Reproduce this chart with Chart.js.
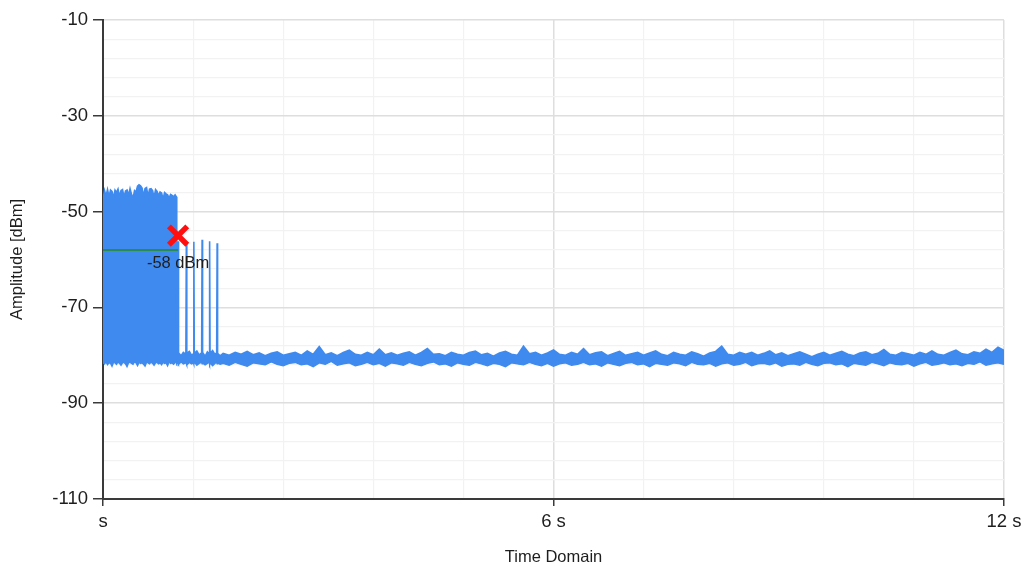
<!DOCTYPE html>
<html>
<head>
<meta charset="utf-8">
<script src="https://cdn.jsdelivr.net/npm/chart.js@4.4.1/dist/chart.umd.min.js"></script>
<style>
  html, body { margin: 0; padding: 0; background: #ffffff; }
  #wrap { width: 1027px; height: 569px; position: relative; }
</style>
</head>
<body>
<div id="wrap"><canvas id="c"></canvas></div>
<script>
// ---------- axis ticks ----------
const xGridValues = [0, 1.2, 2.4, 3.6, 4.8, 6, 7.2, 8.4, 9.6, 10.8, 12];
const xMajorValues = [0, 6, 12];
const xMajorLabels = ['s', '6 s', '12 s'];
const yGridValues = [-110, -106, -102, -98, -94, -90, -86, -82, -78, -74, -70, -66, -62, -58, -54, -50, -46, -42, -38, -34, -30, -26, -22, -18, -14, -10];
const yMajorValues = [-110, -90, -70, -50, -30, -10];
const yMajorLabels = ['-110', '-90', '-70', '-50', '-30', '-10'];

// ---------- signal envelope: burst block (s, dBm) ----------
const blockTime = [0.00, 0.02, 0.04, 0.06, 0.08, 0.10, 0.12, 0.14, 0.16, 0.18,
  0.20, 0.22, 0.24, 0.26, 0.28, 0.30, 0.32, 0.34, 0.36, 0.38,
  0.40, 0.42, 0.44, 0.46, 0.48, 0.50, 0.52, 0.54, 0.56, 0.58,
  0.60, 0.62, 0.64, 0.66, 0.68, 0.70, 0.72, 0.74, 0.76, 0.78,
  0.80, 0.82, 0.84, 0.86, 0.88, 0.90, 0.92, 0.94, 0.96];
const blockHigh = [-47.5, -45.6, -46.8, -45.4, -46.9, -45.5, -45.8, -47.2, -45.5, -46.0,
  -45.3, -46.9, -45.6, -45.4, -47.0, -45.7, -45.5, -46.6, -45.2, -46.4,
  -47.3, -45.6, -45.9, -44.7, -44.4, -44.6, -45.1, -46.8, -45.2, -45.0,
  -46.9, -45.3, -45.2, -45.6, -47.1, -45.4, -45.8, -46.7, -45.9, -46.1,
  -47.4, -46.0, -46.3, -46.5, -47.2, -46.4, -46.6, -46.9, -46.5];
const blockLow = [-81.5, -81.8, -81.4, -82.0, -81.6, -81.7, -82.3, -81.5, -81.6, -81.9,
  -81.4, -81.7, -82.1, -81.6, -81.5, -81.8, -82.4, -81.6, -81.5, -81.7,
  -81.9, -81.4, -81.6, -82.2, -81.5, -81.7, -81.6, -81.9, -82.3, -81.5,
  -81.6, -81.8, -81.4, -81.7, -82.1, -81.6, -81.5, -81.8, -81.6, -82.0,
  -81.5, -81.7, -81.6, -82.2, -81.4, -81.7, -81.6, -81.9, -81.5];

// ---------- trailing pulses ----------
const pulseTime = [0.976, 0.982, 0.994, 1.000, 1.006, 1.04, 1.07, 1.104, 1.110, 1.116,
  1.15, 1.18, 1.204, 1.210, 1.216, 1.25, 1.28, 1.314, 1.320, 1.326,
  1.36, 1.39, 1.414, 1.420, 1.426, 1.46, 1.49, 1.514, 1.520, 1.526, 1.56];
const pulseHigh = [-46.9, -79.6, -79.8, -56.2, -79.5, -80.1, -79.4, -79.8, -56.4, -79.6,
  -79.2, -80.0, -79.7, -56.3, -79.6, -79.1, -79.9, -79.5, -55.9, -79.4,
  -80.2, -79.3, -79.7, -56.2, -79.6, -79.0, -79.8, -79.5, -56.6, -79.6, -80.1];
const pulseLow = [-81.6, -81.8, -81.5, -81.7, -81.9, -81.4, -81.8, -81.6, -81.7, -82.0,
  -81.5, -81.8, -81.6, -81.9, -81.4, -82.1, -81.7, -81.5, -81.8, -81.6,
  -82.0, -81.7, -81.5, -81.9, -81.6, -82.2, -81.7, -81.5, -81.8, -81.6, -81.9];

// ---------- noise floor ----------
const floorTime = [1.60, 1.68, 1.76, 1.84, 1.92, 2.00, 2.08, 2.16, 2.24, 2.32,
  2.40, 2.48, 2.56, 2.64, 2.72, 2.80, 2.88, 2.96, 3.04, 3.12,
  3.20, 3.28, 3.36, 3.44, 3.52, 3.60, 3.68, 3.76, 3.84, 3.92,
  4.00, 4.08, 4.16, 4.24, 4.32, 4.40, 4.48, 4.56, 4.64, 4.72,
  4.80, 4.88, 4.96, 5.04, 5.12, 5.20, 5.28, 5.36, 5.44, 5.52,
  5.60, 5.68, 5.76, 5.84, 5.92, 6.00, 6.08, 6.16, 6.24, 6.32,
  6.40, 6.48, 6.56, 6.64, 6.72, 6.80, 6.88, 6.96, 7.04, 7.12,
  7.20, 7.28, 7.36, 7.44, 7.52, 7.60, 7.68, 7.76, 7.84, 7.92,
  8.00, 8.08, 8.16, 8.24, 8.32, 8.40, 8.48, 8.56, 8.64, 8.72,
  8.80, 8.88, 8.96, 9.04, 9.12, 9.20, 9.28, 9.36, 9.44, 9.52,
  9.60, 9.68, 9.76, 9.84, 9.92, 10.00, 10.08, 10.16, 10.24, 10.32,
  10.40, 10.48, 10.56, 10.64, 10.72, 10.80, 10.88, 10.96, 11.04, 11.12,
  11.20, 11.28, 11.36, 11.44, 11.52, 11.60, 11.68, 11.76, 11.84, 11.92,
  12.00];
const floorHigh = [-79.6, -80.0, -79.4, -79.8, -79.2, -79.9, -79.5, -80.1, -79.6, -79.3,
  -80.0, -79.7, -79.4, -80.0, -79.1, -79.8, -78.2, -79.9, -79.5, -80.1,
  -79.4, -78.9, -79.8, -80.0, -79.4, -79.9, -78.7, -79.9, -79.5, -80.0,
  -79.6, -79.3, -80.0, -79.4, -78.6, -79.8, -79.7, -80.1, -79.4, -79.8,
  -80.0, -79.4, -79.1, -79.9, -79.6, -80.2, -79.5, -79.2, -79.8, -80.0,
  -78.1, -79.7, -79.4, -80.0, -79.5, -78.9, -79.8, -80.0, -79.4, -79.8,
  -78.6, -79.9, -79.5, -79.3, -80.1, -79.6, -79.2, -80.0, -79.7, -79.4,
  -80.0, -79.5, -79.1, -79.8, -80.1, -79.4, -79.8, -80.0, -79.3, -79.7,
  -80.2, -79.5, -79.2, -78.1, -79.8, -80.0, -79.4, -79.8, -79.4, -80.0,
  -79.6, -79.1, -79.9, -79.5, -80.1, -79.7, -79.3, -79.8, -80.3, -79.8,
  -79.4, -80.0, -79.6, -79.2, -79.8, -80.1, -79.5, -79.3, -79.9, -79.6,
  -78.8, -79.8, -80.0, -79.4, -79.7, -80.0, -79.4, -79.8, -79.1, -79.8,
  -80.0, -79.4, -78.9, -79.7, -79.9, -79.3, -79.6, -78.7, -79.4, -78.3,
  -79.0];
const floorLow = [-81.7, -82.1, -81.5, -81.9, -82.3, -81.6, -81.8, -82.0, -81.4, -81.9,
  -82.2, -81.7, -81.5, -82.0, -81.8, -82.4, -81.6, -81.9, -81.3, -82.1,
  -81.8, -81.6, -82.2, -81.9, -81.5, -82.0, -81.7, -82.3, -81.6, -81.8,
  -82.1, -81.5, -81.9, -82.2, -81.7, -81.4, -82.0, -81.8, -82.3, -81.6,
  -81.9, -82.1, -81.5, -81.8, -82.2, -81.7, -81.9, -82.4, -81.6, -81.8,
  -82.0, -81.5, -81.9, -82.2, -81.7, -82.3, -81.8, -81.6, -82.1, -81.9,
  -81.5, -82.0, -81.8, -82.3, -81.6, -81.9, -82.2, -81.7, -81.5, -82.0,
  -81.8, -82.4, -81.7, -81.9, -82.1, -81.6, -81.8, -82.2, -81.5, -81.9,
  -82.0, -81.7, -82.3, -81.8, -81.6, -82.1, -81.9, -81.5, -82.2, -81.8,
  -81.7, -82.0, -81.6, -82.3, -81.9, -81.8, -82.1, -81.5, -81.9, -82.2,
  -81.7, -81.6, -82.0, -81.8, -82.4, -81.7, -81.9, -82.1, -81.5, -81.8,
  -82.2, -81.6, -81.9, -82.0, -81.7, -82.3, -81.8, -81.5, -82.1, -81.9,
  -81.6, -82.0, -81.8, -82.2, -81.7, -81.9, -81.4, -82.1, -81.8, -81.6,
  -81.9];

// ---------- threshold & marker ----------
const thresholdTime = [0, 1.0];
const thresholdValue = [-58, -58];
const thresholdLabel = '-58 dBm';
const markerTime = [1.0];
const markerValue = [-55];

// ---------- build point lists ----------
function zip(t, v) {
  const n = Math.min(t.length, v.length);
  const out = [];
  for (let i = 0; i < n; i++) out.push({ x: t[i], y: v[i] });
  return out;
}
const allTime = blockTime.concat(pulseTime, floorTime);
const allHigh = blockHigh.concat(pulseHigh, floorHigh);
const allLow = blockLow.concat(pulseLow, floorLow);

const BLUE = '#3f8aef';
const TEXT = '#1e1e1e';
const AXIS = '#3a3a3a';
const FONT = "'Liberation Sans', Arial, sans-serif";

function near(v, list) {
  return list.some(m => Math.abs(m - v) < 1e-6);
}

const labelPlugin = {
  id: 'thresholdLabel',
  afterDatasetsDraw(chart) {
    const xs = chart.scales.x, ys = chart.scales.y;
    const ctx = chart.ctx;
    ctx.save();
    ctx.font = '16.5px ' + FONT;
    ctx.fillStyle = TEXT;
    ctx.textAlign = 'center';
    ctx.textBaseline = 'middle';
    ctx.fillText(thresholdLabel, xs.getPixelForValue(thresholdTime[1]), ys.getPixelForValue(thresholdValue[1]) + 14);
    ctx.restore();
  }
};

new Chart(document.getElementById('c'), {
  type: 'line',
  data: {
    datasets: [
      {
        label: 'marker',
        data: zip(markerTime, markerValue),
        showLine: false,
        pointStyle: 'crossRot',
        pointRadius: 13,
        pointBorderWidth: 5.5,
        pointBorderColor: '#ff1010',
        pointBackgroundColor: '#ff1010'
      },
      {
        label: 'threshold',
        data: zip(thresholdTime, thresholdValue),
        borderColor: '#2b8a4e',
        borderWidth: 2,
        pointRadius: 0,
        fill: false
      },
      {
        label: 'high',
        data: zip(allTime, allHigh),
        borderColor: BLUE,
        borderWidth: 1.6,
        pointRadius: 0,
        fill: false
      },
      {
        label: 'low',
        data: zip(allTime, allLow),
        borderColor: BLUE,
        backgroundColor: BLUE,
        borderWidth: 1.3,
        pointRadius: 0,
        fill: '-1'
      }
    ]
  },
  options: {
    responsive: true,
    maintainAspectRatio: false,
    animation: false,
    parsing: true,
    layout: { padding: { left: 0, right: 23, top: 20, bottom: 0 } },
    plugins: {
      legend: { display: false },
      tooltip: { enabled: false },
      filler: { propagate: false }
    },
    elements: { line: { tension: 0 } },
    scales: {
      x: {
        type: 'linear',
        min: 0, max: 12,
        afterBuildTicks: s => { s.ticks = xGridValues.map(v => ({ value: v })); },
        afterFit: s => { s.height = 70; },
        ticks: {
          autoSkip: false, maxRotation: 0, padding: 5,
          color: TEXT,
          font: { family: FONT, size: 18.5 },
          callback: v => {
            const i = xMajorValues.findIndex(m => Math.abs(m - v) < 1e-6);
            return i >= 0 ? xMajorLabels[i] : '';
          }
        },
        grid: {
          drawTicks: true,
          tickLength: 7,
          tickWidth: 1.5,
          tickColor: c => near(c.tick.value, xMajorValues) ? AXIS : 'rgba(0,0,0,0)',
          color: c => near(c.tick.value, xMajorValues) ? '#dedede' : '#f2f2f2',
          lineWidth: c => near(c.tick.value, xMajorValues) ? 1.5 : 1.2
        },
        border: { display: true, color: AXIS, width: 2 },
        title: {
          display: true, text: 'Time Domain', color: TEXT,
          font: { family: FONT, size: 16.5 },
          padding: { top: 0, bottom: 2 }
        }
      },
      y: {
        type: 'linear',
        min: -110, max: -10,
        afterBuildTicks: s => { s.ticks = yGridValues.map(v => ({ value: v })); },
        afterFit: s => { s.width = 103; },
        ticks: {
          autoSkip: false, padding: 5,
          color: TEXT,
          font: { family: FONT, size: 18.5 },
          callback: v => {
            const i = yMajorValues.findIndex(m => Math.abs(m - v) < 1e-6);
            return i >= 0 ? yMajorLabels[i] : '';
          }
        },
        grid: {
          drawTicks: true,
          tickLength: 10,
          tickWidth: 1.5,
          tickColor: c => near(c.tick.value, yMajorValues) ? AXIS : 'rgba(0,0,0,0)',
          color: c => near(c.tick.value, yMajorValues) ? '#dedede' : '#f2f2f2',
          lineWidth: c => near(c.tick.value, yMajorValues) ? 1.5 : 1.2
        },
        border: { display: true, color: AXIS, width: 2 },
        title: {
          display: true, text: 'Amplitude [dBm]', color: TEXT,
          font: { family: FONT, size: 16.5 },
          padding: { top: 8, bottom: 0 }
        }
      }
    }
  },
  plugins: [labelPlugin]
});
</script>
</body>
</html>
